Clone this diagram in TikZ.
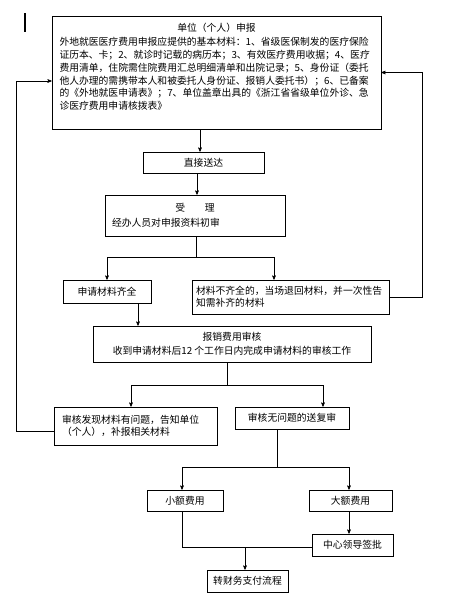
\documentclass[tikz,border=0pt]{standalone}
\usepackage{fontspec}
\newfontfamily\cjk{Noto Sans CJK SC}
\usetikzlibrary{arrows}

\begin{document}
\begin{tikzpicture}[x=1pt,y=-1pt,>=stealth',semithick,
                    box/.style={draw,rectangle,inner sep=0pt,
                                font=\cjk\fontsize{9.8}{12}\selectfont}]
  \useasboundingbox (0,0) rectangle (462,603);

  \draw[line width=1.6pt] (25,13) -- (25,32);

  \node[box,minimum width=329pt,minimum height=113pt,text width=314pt,align=left,
        font=\cjk\fontsize{9.8}{12.7}\selectfont] (apply) at (216.5,72.5)
    {\makebox[\linewidth]{单位（个人）申报}\\[2pt]
     外地就医医疗费用申报应提供的基本材料：1、省级医保制发的医疗保险\\
     证历本、卡；2、就诊时记载的病历本；3、有效医疗费用收据；4、医疗\\
     费用清单，住院需住院费用汇总明细清单和出院记录；5、身份证（委托\\
     他人办理的需携带本人和被委托人身份证、报销人委托书）；6、已备案\\
     的《外地就医申请表》；7、单位盖章出具的《浙江省省级单位外诊、急\\
     诊医疗费用申请核拨表》\\ \mbox{}};
  \node[box,minimum width=121pt,minimum height=21pt] (send) at (203.5,162.5) {直接送达};
  \node[box,minimum width=180pt,minimum height=41pt,text width=166pt,align=left] (accept) at (195,215.5)
    {\makebox[\linewidth]{受\hspace{2em}理}\\[3pt] 经办人员对申报资料初审};
  \node[box,minimum width=88pt,minimum height=23pt] (ready) at (107,291.5) {申请材料齐全};
  \node[box,minimum width=197pt,minimum height=34pt,text width=189pt,align=left] (lack) at (290.5,297)
    {材料不齐全的，当场退回材料，并一次性告\\ 知需补齐的材料};
  \node[box,minimum width=278pt,minimum height=36pt,align=center] (audit) at (232,344)
    {报销费用审核\\[2pt] 收到申请材料后12 个工作日内完成申请材料的审核工作};
  \node[box,minimum width=163pt,minimum height=38pt,text width=147pt,align=left] (problem) at (135.5,426)
    {审核发现材料有问题，告知单位\\（个人），补报相关材料};
  \node[box,minimum width=114pt,minimum height=22pt] (pass) at (292,418) {审核无问题的送复审};
  \node[box,minimum width=76pt,minimum height=21pt] (small) at (185,500.5) {小额费用};
  \node[box,minimum width=83pt,minimum height=21pt] (large) at (350.5,500.5) {大额费用};
  \node[box,minimum width=81pt,minimum height=22pt] (leader) at (352.5,545) {中心领导签批};
  \node[box,minimum width=81pt,minimum height=22pt] (finance) at (247.5,581) {转财务支付流程};

  \coordinate (fork1) at (196,257);
  \coordinate (fork2) at (227,385);
  \coordinate (fork3) at (277,467);
  \coordinate (join) at (245,547);

  \draw[->] ([xshift=-3.5pt]send.north |- apply.south) -- ([xshift=-3.5pt]send.north);
  \draw[->] ([xshift=-6.5pt]send.south) -- ([xshift=-6.5pt]send.south |- accept.north);
  \draw (accept.south -| fork1) -- (fork1);
  \draw[->] (fork1) -| (ready.north);
  \draw[->] (fork1) -| ([xshift=-16.5pt]lack.north);
  \draw[->] (lack.east) -- ++(33,0) |- (apply.east);
  \draw[->] ([xshift=31pt]ready.south) -- ([xshift=31pt]ready.south |- audit.north);
  \draw (audit.south -| fork2) -- (fork2);
  \draw[->] (fork2) -| ([xshift=-4.5pt]problem.north);
  \draw[->] (fork2) -| ([xshift=31pt]pass.north);
  \draw[->] ([yshift=-5pt]problem.west) -- ++(-37,0) |- ([yshift=-8.5pt]apply.west);
  \draw (pass.south -| fork3) -- (fork3);
  \draw[->] (fork3) -| ([xshift=-3pt]small.north);
  \draw[->] (fork3) -| ([xshift=-1.5pt]large.north);
  \draw[->] ([xshift=-1.5pt]large.south) -- ([xshift=-1.5pt]large.south |- leader.north);
  \draw ([xshift=-3pt]small.south) |- ([yshift=-2pt]leader.west);
  \draw[->] (join) -- (join |- finance.north);
\end{tikzpicture}
\end{document}
